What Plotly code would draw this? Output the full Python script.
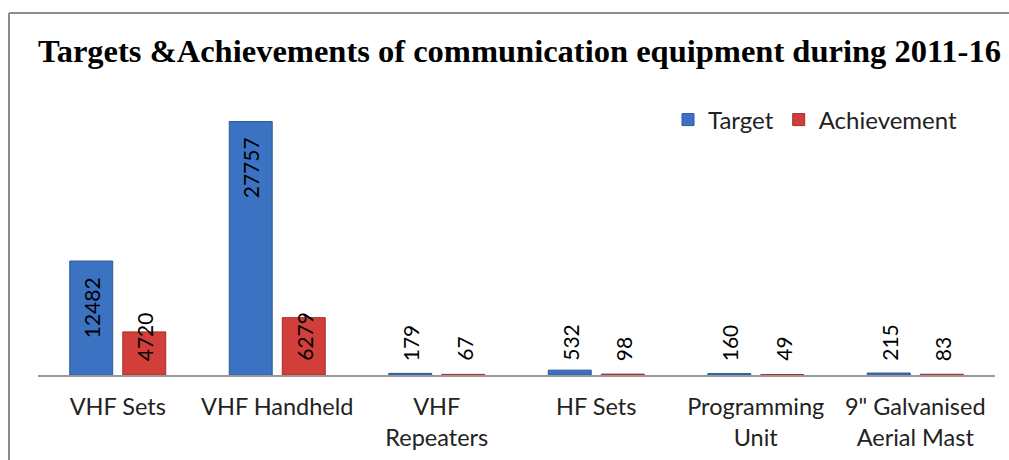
import plotly.graph_objects as go

categories = ["VHF Sets", "VHF Handheld", "VHF<br>Repeaters", "HF Sets",
              "Programming<br>Unit", "9\" Galvanised<br>Aerial Mast"]
target = [12482, 27757, 179, 532, 160, 215]
achievement = [4720, 6279, 67, 98, 49, 83]
series_names = ["Target", "Achievement"]

W, H = 1009, 460
L, T = 38, 101
pw, ph = 957, 274
R = W - L - pw
B = H - T - ph

blue, blue_edge = "#3B73C2", "#2A5A9A"
red, red_edge = "#D23E3A", "#A52E2B"

fig = go.Figure()
fig.add_trace(go.Bar(x=categories, y=target, name=series_names[0],
                     marker=dict(color=blue, line=dict(color=blue_edge, width=1))))
fig.add_trace(go.Bar(x=categories, y=achievement, name=series_names[1],
                     marker=dict(color=red, line=dict(color=red_edge, width=1))))

annotations = []
for vals, shift in ((target, -26), (achievement, 27)):
    for c, v in zip(categories, vals):
        if v > 10000:
            a = dict(y=v, yanchor="top", yshift=-14)
        else:
            a = dict(y=0, yanchor="bottom", yshift=12)
        annotations.append(dict(x=c, xref="x", yref="y", text=str(v), textangle=-90,
                                showarrow=False, xanchor="center", xshift=shift,
                                font=dict(family="Lato", size=21, color="#000"), **a))

def px_x(x):
    return (x - L) / pw

def px_y(y):
    return (T + ph - y) / ph

annotations.append(dict(text="<b>Targets &Achievements of communication equipment during 2011-16</b>",
                        xref="paper", yref="paper", x=px_x(519), y=px_y(51),
                        xanchor="center", yanchor="middle", showarrow=False,
                        font=dict(family="Liberation Serif", size=32.5, color="#000")))

bx = px_x(9)
by = px_y(13)
shapes = [
    dict(type="line", xref="paper", yref="paper", x0=bx, x1=bx, y0=-1, y1=by,
         line=dict(color="#8c8c8c", width=2)),
    dict(type="line", xref="paper", yref="paper", x0=bx, x1=1.1, y0=by, y1=by,
         line=dict(color="#8c8c8c", width=2)),
]

fig.update_layout(
    width=W, height=H,
    margin=dict(l=L, r=R, t=T, b=B, pad=0),
    paper_bgcolor="white", plot_bgcolor="white",
    barmode="group", bargap=0.335, bargroupgap=0.19,
    showlegend=True,
    legend=dict(orientation="h", x=px_x(668), y=px_y(120),
                xanchor="left", yanchor="middle", bgcolor="rgba(0,0,0,0)",
                font=dict(family="Lato", size=24, color="#222"), itemwidth=30),
    xaxis=dict(showline=True, linecolor="#999999", linewidth=1.5, ticks="",
               tickfont=dict(family="Lato", size=23.5, color="#222"),
               showgrid=False, zeroline=False, ticklabelstandoff=10, automargin=False),
    yaxis=dict(range=[0, 30000], visible=False, showgrid=False, zeroline=False),
    annotations=annotations, shapes=shapes,
)

fig.write_html("out.html", config={"displayModeBar": False},
               post_script="document.body.style.margin='0';document.body.style.overflow='hidden';")
